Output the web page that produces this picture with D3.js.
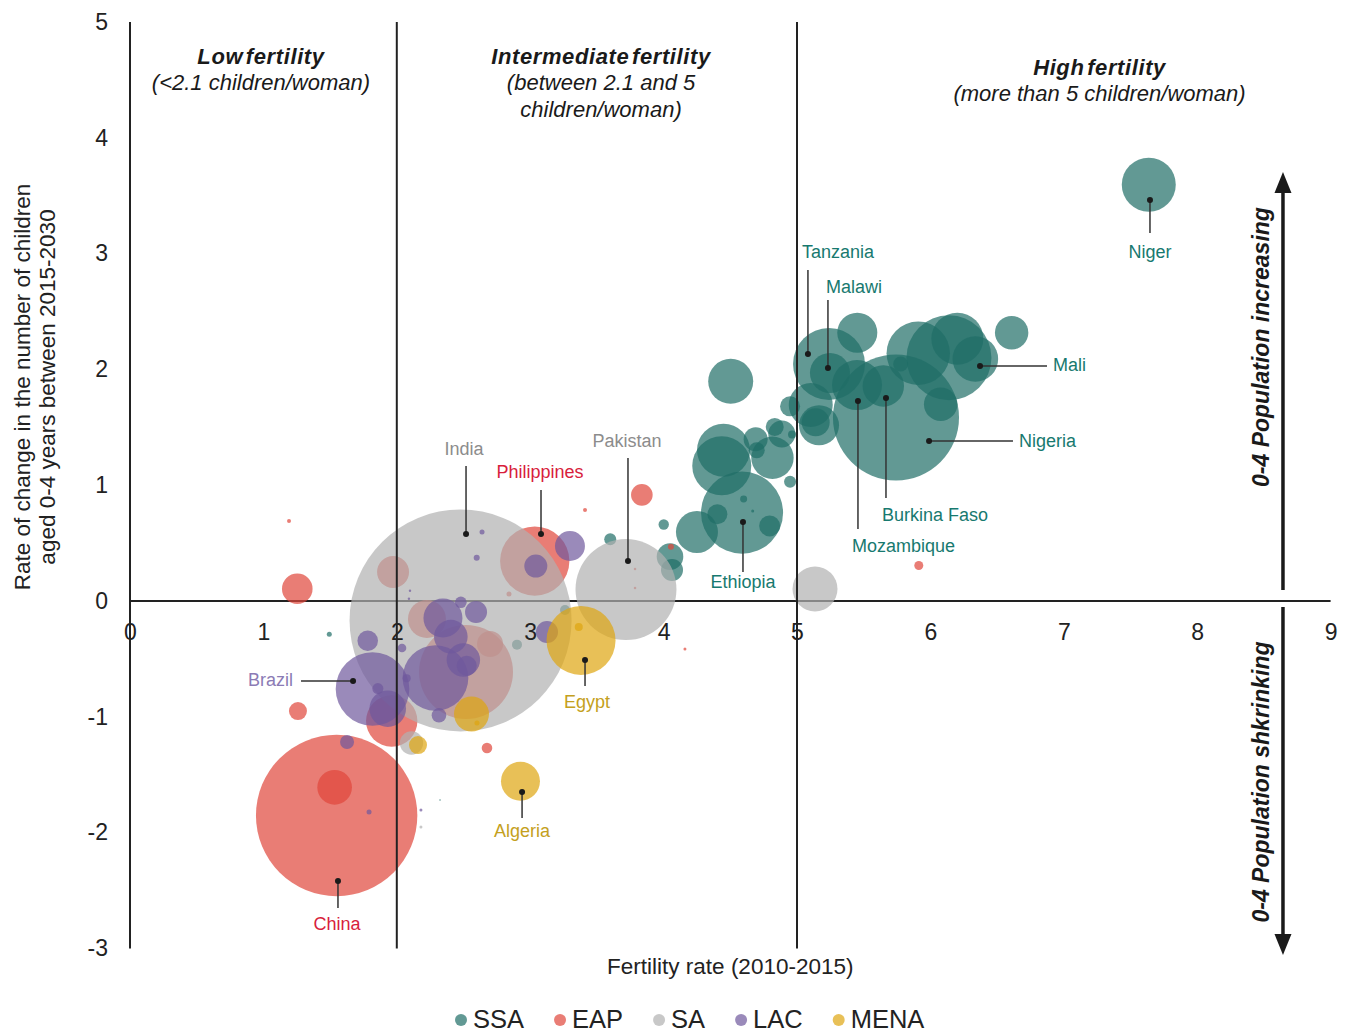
<!DOCTYPE html>
<html>
<head>
<meta charset="utf-8">
<script src="https://cdn.jsdelivr.net/npm/d3@7"></script>
<style>
  body { margin: 0; background: #fff; }
  text { font-family: "Liberation Sans", Arial, sans-serif; }
</style>
</head>
<body>
<script>
// regions, in drawing order
var regions = ["SSA", "EAP", "SA", "LAC", "MENA"];
var regionColors = ["#1f6e67", "#e0463a", "#b0b0b0", "#6f599c", "#dea510"];
var labelColors = ["#17796f", "#d81e3c", "#8c8c8c", "#8b7bb5", "#c4a020"];

// [fertility 2010-2015, rate of change 0-4 pop 2015-2030, children 0-4 (millions)]
var ssaBubbles = [
    [7.637, 3.595, 7.10], [5.742, 1.585, 38.7], [5.909, 2.139, 9.79], [6.139, 2.101, 17.6],
    [6.202, 2.265, 6.58], [6.337, 2.090, 5.06], [6.609, 2.317, 2.72], [6.077, 1.699, 2.72],
    [5.777, 2.047, 0.548], [5.240, 2.047, 12.6], [5.247, 1.969, 3.90], [5.452, 2.317, 3.90],
    [5.450, 1.865, 6.09], [5.647, 1.857, 4.17], [5.103, 1.693, 4.71], [5.165, 1.517, 3.90],
    [5.140, 1.543, 1.91], [4.948, 1.681, 0.974], [4.963, 1.438, 0.156], [4.948, 1.030, 0.351],
    [4.503, 1.897, 4.93], [4.449, 1.302, 6.84], [4.436, 1.168, 8.48], [4.690, 1.397, 1.40],
    [4.698, 1.302, 0.623], [4.816, 1.237, 4.38], [4.833, 1.503, 0.789], [4.886, 1.442, 1.78],
    [4.588, 0.763, 16.4], [4.403, 0.749, 0.974], [4.795, 0.648, 1.07], [4.600, 0.881, 0.119],
    [4.668, 0.777, 0.022], [4.250, 0.596, 4.30], [4.001, 0.661, 0.263], [4.048, 0.383, 1.72],
    [4.063, 0.268, 1.18], [3.600, 0.533, 0.351], [1.494, -0.288, 0.061], [2.901, -0.377, 0.244],
    [3.261, -0.078, 0.244], [2.324, -1.718, 0.006]
];
var eapBubbles = [
    [1.549, -1.852, 63.4], [1.534, -1.609, 2.92], [3.034, 0.345, 11.7], [1.254, 0.106, 2.28],
    [1.192, 0.691, 0.039], [1.259, -0.950, 0.79], [1.962, -1.036, 6.43], [1.972, 0.250, 2.49],
    [2.519, -0.613, 21.5], [2.226, -0.155, 3.52], [2.699, -0.371, 1.65], [3.837, 0.917, 1.14],
    [5.913, 0.307, 0.197], [3.411, 0.786, 0.039], [2.676, -1.269, 0.274], [2.841, 0.060, 0.061],
    [4.160, -0.415, 0.022], [4.055, 0.469, 0.088], [3.786, 0.276, 0.016], [3.786, 0.112, 0.016]
];
var saBubbles = [
    [2.478, -0.168, 120], [3.718, 0.099, 24.8], [5.135, 0.104, 4.93], [2.110, -1.226, 1.33],
    [2.181, -1.952, 0.022]
];
var lacBubbles = [
    [1.818, -0.760, 13.2], [1.782, -0.343, 1.03], [2.039, -0.406, 0.18], [1.932, -0.930, 3.26],
    [1.858, -0.756, 0.295], [1.627, -1.218, 0.477], [2.290, -0.665, 10.5], [2.346, -0.147, 3.70],
    [2.405, -0.308, 2.75], [2.594, -0.095, 1.18], [2.480, -0.011, 0.328], [2.499, -0.509, 2.72],
    [2.524, -0.559, 0.974], [2.316, -0.987, 0.519], [3.042, 0.302, 1.29], [3.298, 0.475, 2.19],
    [3.126, -0.268, 1.18], [2.639, 0.596, 0.061], [2.599, 0.374, 0.088], [2.099, 0.089, 0.014],
    [2.091, 0.020, 0.014], [2.074, -0.668, 0.156], [1.792, -1.822, 0.061], [2.181, -1.805, 0.022]
];
var menaBubbles = [
    [3.381, -0.341, 11.6], [2.560, -0.976, 2.98], [2.159, -1.244, 0.79], [2.927, -1.557, 3.70],
    [3.364, -0.225, 0.156], [2.601, -1.054, 0.061]
];
var bubbleSets = [ssaBubbles, eapBubbles, saBubbles, lacBubbles, menaBubbles];

// labelled countries: dot, end of leader line, label position (data units)
var callouts = [
    {name: "Niger", reg: 0, x: 7.646, y: 3.463, ex: 7.646, ey: 3.178, tx: 7.646, ty: 2.962, anchor: "middle"},
    {name: "Tanzania", reg: 0, x: 5.082, y: 2.133, ex: 5.082, ey: 2.858, tx: 5.037, ty: 2.966, anchor: "start"},
    {name: "Malawi", reg: 0, x: 5.232, y: 2.012, ex: 5.232, ey: 2.599, tx: 5.217, ty: 2.664, anchor: "start"},
    {name: "Mali", reg: 0, x: 6.372, y: 2.029, ex: 6.874, ey: 2.029, tx: 6.919, ty: 1.982, anchor: "start"},
    {name: "Nigeria", reg: 0, x: 5.990, y: 1.382, ex: 6.619, ey: 1.382, tx: 6.664, ty: 1.334, anchor: "start"},
    {name: "Burkina Faso", reg: 0, x: 5.667, y: 1.753, ex: 5.667, ey: 0.889, tx: 5.637, ty: 0.695, anchor: "start"},
    {name: "Mozambique", reg: 0, x: 5.457, y: 1.727, ex: 5.457, ey: 0.622, tx: 5.412, ty: 0.427, anchor: "start"},
    {name: "Ethiopia", reg: 0, x: 4.595, y: 0.682, ex: 4.595, ey: 0.250, tx: 4.595, ty: 0.108, anchor: "middle"},
    {name: "Pakistan", reg: 2, x: 3.733, y: 0.345, ex: 3.733, ey: 1.235, tx: 3.726, ty: 1.334, anchor: "middle"},
    {name: "India", reg: 2, x: 2.519, y: 0.579, ex: 2.519, ey: 1.166, tx: 2.504, ty: 1.265, anchor: "middle"},
    {name: "Philippines", reg: 1, x: 3.081, y: 0.579, ex: 3.081, ey: 0.959, tx: 3.073, ty: 1.058, anchor: "middle"},
    {name: "Brazil", reg: 3, x: 1.672, y: -0.691, ex: 1.282, ey: -0.691, tx: 1.222, ty: -0.730, anchor: "end"},
    {name: "Egypt", reg: 4, x: 3.411, y: -0.509, ex: 3.411, ey: -0.734, tx: 3.426, ty: -0.920, anchor: "middle"},
    {name: "Algeria", reg: 4, x: 2.939, y: -1.649, ex: 2.939, ey: -1.874, tx: 2.939, ty: -2.042, anchor: "middle"},
    {name: "China", reg: 1, x: 1.559, y: -2.418, ex: 1.559, ey: -2.651, tx: 1.552, ty: -2.837, anchor: "middle"}
];

var xTicks = [0, 1, 2, 3, 4, 5, 6, 7, 8, 9];
var yTicks = [-3, -2, -1, 0, 1, 2, 3, 4, 5];
var thresholds = [2, 5];

var zoneHeads = [
    {x: 0.982, lines: [[4.637, "Low fertility", true], [4.413, "(<2.1 children/woman)", false]]},
    {x: 3.531, lines: [[4.637, "Intermediate fertility", true], [4.413, "(between 2.1 and 5", false], [4.180, "children/woman)", false]]},
    {x: 7.268, lines: [[4.542, "High fertility", true], [4.317, "(more than 5 children/woman)", false]]}
];

var W = 1351, H = 1034;
var svg = d3.select("body").append("svg").attr("width", W).attr("height", H);

var x = d3.scaleLinear().domain([0, 9]).range([130, 1330.6]);
var y = d3.scaleLinear().domain([-3, 5]).range([948.4, 22]);
var r = d3.scaleSqrt().domain([0, 120]).range([0, 111]);

// zero line sits under the bubbles
svg.append("line")
    .attr("x1", x(0)).attr("x2", x(9))
    .attr("y1", y(0)).attr("y2", y(0))
    .attr("stroke", "#222").attr("stroke-width", 2);

var rows = [];
bubbleSets.forEach(function(set, i) {
    set.slice().sort(function(a, b) { return b[2] - a[2]; }).forEach(function(d) {
        rows.push({reg: i, fert: d[0], chg: d[1], pop: d[2]});
    });
});

svg.append("g").selectAll("circle")
    .data(rows)
    .enter().append("circle")
    .attr("cx", function(d) { return x(d.fert); })
    .attr("cy", function(d) { return y(d.chg); })
    .attr("r", function(d) { return Math.max(0.8, r(d.pop)); })
    .attr("fill", function(d) { return regionColors[d.reg]; })
    .attr("fill-opacity", 0.7);

// y axis and fertility thresholds on top
[0].concat(thresholds).forEach(function(v) {
    svg.append("line")
        .attr("x1", x(v)).attr("x2", x(v))
        .attr("y1", y(5)).attr("y2", y(-3))
        .attr("stroke", "#222").attr("stroke-width", 2);
});

var xAxis = svg.append("g")
    .attr("transform", "translate(0," + y(0) + ")")
    .call(d3.axisBottom(x).tickValues(xTicks).tickSize(0).tickPadding(23).tickFormat(String));
var yAxis = svg.append("g")
    .attr("transform", "translate(" + x(0) + ",0)")
    .call(d3.axisLeft(y).tickValues(yTicks).tickSize(0).tickPadding(22).tickFormat(String));
[xAxis, yAxis].forEach(function(a) {
    a.select(".domain").remove();
    a.selectAll("text").attr("font-size", 23).attr("fill", "#222")
        .attr("font-family", "'Liberation Sans', Arial, sans-serif");
});

// callouts
var co = svg.append("g");
co.selectAll("line").data(callouts).enter().append("line")
    .attr("x1", function(d) { return x(d.x); }).attr("y1", function(d) { return y(d.y); })
    .attr("x2", function(d) { return x(d.ex); }).attr("y2", function(d) { return y(d.ey); })
    .attr("stroke", "#333").attr("stroke-width", 1.5);
co.selectAll("circle").data(callouts).enter().append("circle")
    .attr("cx", function(d) { return x(d.x); }).attr("cy", function(d) { return y(d.y); })
    .attr("r", 3).attr("fill", "#1a1a1a");
co.selectAll("text").data(callouts).enter().append("text")
    .attr("x", function(d) { return x(d.tx); }).attr("y", function(d) { return y(d.ty); })
    .attr("text-anchor", function(d) { return d.anchor; })
    .attr("font-size", 18)
    .attr("fill", function(d) { return labelColors[d.reg]; })
    .text(function(d) { return d.name; });

// zone headings
zoneHeads.forEach(function(z) {
    z.lines.forEach(function(l) {
        svg.append("text")
            .attr("x", x(z.x)).attr("y", y(l[0]))
            .attr("text-anchor", "middle")
            .attr("font-size", 22)
            .attr("font-style", "italic")
            .attr("font-weight", l[2] ? "bold" : "normal")
            .attr("letter-spacing", l[2] ? 0.6 : 0)
            .attr("word-spacing", l[2] ? -4 : 0)
            .attr("fill", "#1a1a1a")
            .text(l[1]);
    });
});

// axis titles
svg.append("text")
    .attr("x", x(4.5)).attr("y", 974)
    .attr("text-anchor", "middle").attr("font-size", 22.5).attr("fill", "#222")
    .text("Fertility rate (2010-2015)");
var yt = svg.append("g").attr("transform", "translate(0,387) rotate(-90)");
yt.append("text").attr("x", 0).attr("y", 30).attr("text-anchor", "middle")
    .attr("font-size", 22.5).attr("fill", "#222").text("Rate of change in the number of children");
yt.append("text").attr("x", 0).attr("y", 55).attr("text-anchor", "middle")
    .attr("font-size", 22.5).attr("fill", "#222").text("aged 0-4 years between 2015-2030");

// direction arrows
var ax = x(8.643);
function arrow(from, to, label, labelAt) {
    var up = to > from;
    var tip = y(to), base = up ? tip + 21 : tip - 21;
    svg.append("line")
        .attr("x1", ax).attr("x2", ax)
        .attr("y1", y(from)).attr("y2", base)
        .attr("stroke", "#1a1a1a").attr("stroke-width", 3.5);
    svg.append("path")
        .attr("d", "M" + ax + "," + tip + "L" + (ax - 8.5) + "," + base + "L" + (ax + 8.5) + "," + base + "Z")
        .attr("fill", "#1a1a1a");
    svg.append("text")
        .attr("transform", "translate(" + (ax - 14) + "," + y(labelAt) + ") rotate(-90)")
        .attr("text-anchor", "middle")
        .attr("font-size", 23).attr("font-weight", "bold").attr("font-style", "italic")
        .attr("fill", "#1a1a1a")
        .text(label);
}
arrow(0.095, 3.705, "0-4 Population increasing", 2.193);
arrow(-0.052, -3.057, "0-4 Population shkrinking", -1.563);

// legend
var lg = svg.append("g");
var cx = 461;
regions.forEach(function(name, i) {
    lg.append("circle").attr("cx", cx).attr("cy", 1020).attr("r", 6)
        .attr("fill", regionColors[i]).attr("fill-opacity", 0.7);
    var t = lg.append("text").attr("x", cx + 12).attr("y", 1028)
        .attr("font-size", 25.5).attr("fill", "#222").text(name);
    cx = cx + 12 + t.node().getComputedTextLength() + 36;
});
</script>
</body>
</html>
